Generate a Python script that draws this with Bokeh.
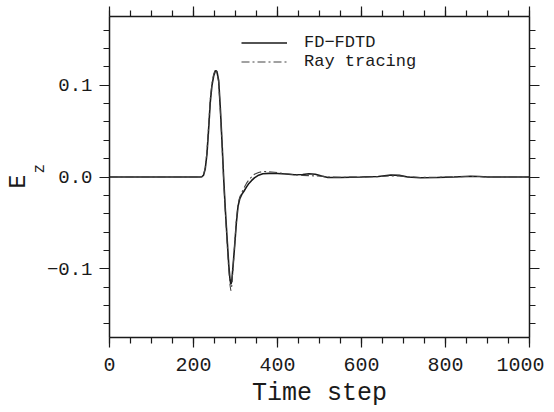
import numpy as np
from bokeh.plotting import figure
from bokeh.models import (LinearAxis, FixedTicker, Range1d, Legend, LegendItem, Title,
                          ColumnDataSource, CustomLabelingPolicy)
from bokeh.embed import file_html
from bokeh.resources import INLINE

# ---- data ----
time_step = [0, 100, 200, 215, 220, 224, 228, 232, 236, 240, 244, 248, 252, 254, 256, 260,
             264, 268, 272, 276, 280, 284, 287, 289, 291, 294, 298, 302, 306, 310, 315, 320,
             326, 332, 338, 345, 355, 365, 380, 400, 420, 440, 460, 475, 490, 505, 520, 550,
             600, 640, 670, 690, 710, 740, 780, 820, 860, 880, 900, 950, 1000]
fd_fdtd = [0, 0, 0, 0, 0.0003, 0.002, 0.009, 0.025, 0.052, 0.082, 0.100, 0.110, 0.1155, 0.116,
           0.1145, 0.105, 0.074, 0.037, -0.003, -0.037, -0.067, -0.096, -0.112, -0.117, -0.114,
           -0.098, -0.075, -0.050, -0.032, -0.024, -0.019, -0.0155, -0.011, -0.007, -0.004,
           -0.001, 0.002, 0.0035, 0.004, 0.0038, 0.0032, 0.0025, 0.0028, 0.0035, 0.003, 0.001,
           -0.0005, -0.0005, 0.0, 0.0005, 0.0022, 0.0018, 0.0, -0.0008, -0.0005, 0.0, 0.0008,
           0.0006, 0.0, 0.0, 0.0]
ray_tracing = [0, 0, 0, 0, 0.0003, 0.0025, 0.010, 0.027, 0.055, 0.085, 0.102, 0.112, 0.117,
               0.1165, 0.114, 0.103, 0.072, 0.035, -0.005, -0.040, -0.071, -0.101, -0.118,
               -0.124, -0.119, -0.100, -0.074, -0.048, -0.030, -0.022, -0.017, -0.012, -0.007,
               -0.003, 0.0, 0.003, 0.005, 0.006, 0.0058, 0.0048, 0.0035, 0.0025, 0.0018, 0.0015,
               0.0012, 0.0008, 0.0, -0.0003, 0.0, 0.0003, 0.0012, 0.0012, 0.0002, -0.0005,
               -0.0003, 0.0002, 0.0006, 0.0005, 0.0, 0.0, 0.0]
series_names = ["FD\u2212FDTD", "Ray tracing"]
x_major_ticks = [0, 200, 400, 600, 800, 1000]
y_major_ticks = [-0.1, 0.0, 0.1]
y_tick_labels = ["\u22120.1", "0.0", "0.1"]
x_label = "Time step"
y_label_main = "E"
y_label_sub = "z"

FONT = "Liberation Mono"
INK = "#1a1a1a"

p = figure(frame_width=420, frame_height=321, output_backend="svg", toolbar_location=None,
           x_range=Range1d(0, 1000), y_range=Range1d(-0.175, 0.175),
           x_axis_location=None, y_axis_location=None,
           min_border_left=0, min_border_bottom=0, min_border_top=16, min_border_right=0)
p.xgrid.visible = False
p.ygrid.visible = False
p.outline_line_color = None
p.background_fill_color = "white"

x_ticker = FixedTicker(ticks=x_major_ticks, minor_ticks=list(np.arange(0, 1001, 50)))
y_ticker = FixedTicker(ticks=y_major_ticks,
                       minor_ticks=list(np.round(np.arange(-0.16, 0.161, 0.02), 2)))
no_labels = CustomLabelingPolicy(code="return new Set()")


def style(ax, show_labels, standoff=8, size="20px"):
    ax.axis_line_color = INK
    ax.axis_line_width = 1.5
    ax.major_tick_line_color = INK
    ax.minor_tick_line_color = INK
    ax.major_tick_line_width = 1.2
    ax.minor_tick_line_width = 1.2
    ax.major_tick_out = 10
    ax.major_tick_in = 0
    ax.minor_tick_out = 6
    ax.minor_tick_in = 0
    ax.major_label_text_font = FONT
    ax.major_label_text_color = INK
    if show_labels:
        ax.major_label_text_font_size = size
        ax.major_label_standoff = standoff
    else:
        ax.major_label_text_font_size = "1px"
        ax.major_label_policy = no_labels
        ax.major_label_standoff = 0


xb = LinearAxis(ticker=x_ticker, axis_label=x_label, axis_label_text_font=FONT,
                axis_label_text_font_size="25px", axis_label_text_font_style="normal",
                axis_label_text_color=INK, axis_label_standoff=5)
style(xb, True, standoff=10, size="20px")
xt = LinearAxis(ticker=x_ticker)
style(xt, False)
yl = LinearAxis(ticker=y_ticker,
                major_label_overrides={v: t for v, t in zip(y_major_ticks, y_tick_labels)})
style(yl, True, standoff=7, size="19px")
yr = LinearAxis(ticker=y_ticker)
style(yr, False)
p.add_layout(xb, "below")
p.add_layout(xt, "above")
p.add_layout(yl, "left")
p.add_layout(yr, "right")

# y-axis title "E" with subscript "z" (stacked title panels on the left)
p.add_layout(Title(text=y_label_sub, text_font=FONT, text_font_size="16px",
                   text_font_style="normal", text_color=INK, align="left",
                   vertical_align="top", offset=164, standoff=-14), "left")
p.add_layout(Title(text=y_label_main, text_font=FONT, text_font_size="23px",
                   text_font_style="normal", text_color=INK, align="left",
                   vertical_align="middle", offset=149, standoff=9), "left")

src = ColumnDataSource(dict(t=time_step, fd=fd_fdtd, rt=ray_tracing))
r_fd = p.line("t", "fd", source=src, line_color=INK, line_width=1.6)
r_rt = p.line("t", "rt", source=src, line_color="#444444", line_width=1.1,
              line_dash="8 3 2 3")

legend = Legend(items=[LegendItem(label=series_names[0], renderers=[r_fd]),
                       LegendItem(label=series_names[1], renderers=[r_rt])],
                location=(132, 266), border_line_alpha=0, background_fill_alpha=0,
                padding=0, margin=0, spacing=0, glyph_width=46, glyph_height=19,
                label_height=19, label_standoff=17, label_text_font=FONT,
                label_text_font_size="17px", label_text_color=INK)
p.add_layout(legend, "center")

open("out.html", "w").write(file_html(p, INLINE))
